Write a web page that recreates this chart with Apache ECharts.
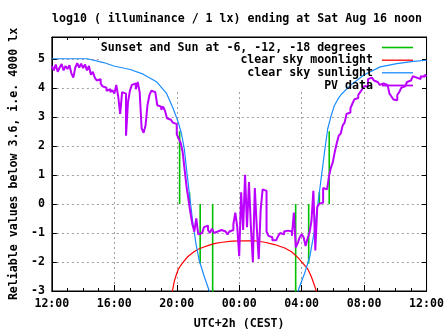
<!DOCTYPE html>
<html>
<head>
<meta charset="utf-8">
<script src="https://cdn.jsdelivr.net/npm/echarts@6/dist/echarts.min.js"></script>
<style>html,body{margin:0;padding:0;background:#fff}#c{width:447px;height:335px}</style>
</head>
<body>
<div id="c"></div>
<script>
// ---------------- data ----------------
const titleText = 'log10 ( illuminance / 1 lx) ending at Sat Aug 16 noon';
const xAxisTitle = 'UTC+2h (CEST)';
const yAxisTitle = 'Reliable values below 3.6, i.e. 4000 lx';
const xTickLabels = ['12:00', '16:00', '20:00', '00:00', '04:00', '08:00', '12:00'];
const yTickValues = [-3, -2, -1, 0, 1, 2, 3, 4, 5];
const seriesNames = ['Sunset and Sun at -6, -12, -18 degrees', 'clear sky moonlight', 'clear sky sunlight', 'PV data'];

// vertical markers: time, and the far end of the marker (other end at 0)
const sunEventTimes = ['20:11', '20:49', '21:30', '22:18', '03:37', '04:27', '05:08', '05:46'];
const sunEventEnds  = [2.5, 0.4, -2.05, -3.3, -3.3, -2.05, 0.4, 2.5];

const moonTimes  = ['19:40', '19:51', '19:58', '20:06', '20:17', '20:27', '20:42', '21:01', '21:20', '21:39',
                    '22:05', '22:28', '22:55', '23:33', '00:22', '01:00', '01:38', '02:16', '02:55', '03:21',
                    '03:46', '04:05', '04:24', '04:37', '04:49', '04:58', '05:02'];
const moonValues = [-3.15, -2.65, -2.45, -2.25, -2.1, -1.98, -1.82, -1.68, -1.57, -1.5,
                    -1.42, -1.36, -1.32, -1.28, -1.27, -1.27, -1.32, -1.4, -1.52, -1.65,
                    -1.85, -2.05, -2.25, -2.5, -2.8, -3.05, -3.3];

const sunTimes  = ['12:00', '14:16', '15:19', '15:58', '17:01', '17:51', '18:42', '19:20', '19:45', '20:04',
                   '20:17', '20:29', '20:40', '20:49', '21:01', '21:14', '21:26', '21:46', '22:05', '22:15',
                   '01:00',
                   '03:37', '03:46', '04:11', '04:31', '04:49', '05:02', '05:15', '05:28', '05:40',
                   '05:53', '06:05', '06:18', '06:31', '07:09', '07:59', '09:02', '10:06', '11:09', '12:00'];
const sunValues = [5.0, 5.0, 4.87, 4.75, 4.63, 4.47, 4.21, 3.82, 3.31, 2.86,
                   2.46, 1.9, 1.0, 0.32, -0.59, -1.38, -1.94, -2.51, -3.0, -3.3,
                   null,
                   -3.3, -3.0, -2.4, -1.83, -0.93, -0.02, 0.88, 1.79, 2.58,
                   3.03, 3.37, 3.59, 3.76, 4.1, 4.44, 4.72, 4.83, 4.91, 4.95];

const pvStart = '12:00';
const pvStepMinutes = 7.5;
const pvValues = [
  4.75, 4.6, 4.8, 4.55, 4.7, 4.82, 4.6, 4.75, 4.65, 4.78,
  4.5, 4.35, 4.7, 4.85, 4.7, 4.83, 4.68, 4.8, 4.6, 4.75,
  4.45, 4.55, 4.35, 4.25, 4.3, 4.15, 4.05, 4.0, 3.9, 3.95,
  3.85, 3.92, 3.8, 4.1, 3.7, 3.1, 3.85, 3.8, 2.35, 3.5,
  3.9, 4.1, 4.15, 3.95, 4.2, 3.85, 2.6, 2.45, 2.7, 3.4,
  3.75, 3.9, 3.85, 3.8, 3.4, 3.35, 3.25, 3.35, 3.2, 2.95,
  2.9, 2.85, 2.8, 2.75, 2.4, 2.25, 2.1, 1.8, 1.2, 0.6,
  0.15, -0.3, -0.7, -0.95, -0.5, -1.05, -1.0, -0.95, -0.8, -0.75,
  -0.9, -1.0, -0.85, -1.0, -0.95, -1.0, -0.9, -0.92, -0.95, -1.0,
  -1.05, -0.95, -0.9, -0.7, -0.3, -0.8, -1.8, 0.4, -0.9, 1.0,
  -0.8, 0.75, -0.8, -2.0, 0.55, -0.8, -1.9, -0.2, 0.5, 0.45,
  -0.95, -1.1, -1.15, -1.25, -1.25, -1.2, -1.1, -1.0, -1.05, -0.95,
  -0.92, -0.88, -0.95, -1.1, -0.3, -1.5, -1.35, -1.15, -1.05, -1.15,
  -1.45, -1.2, -1.0, -0.6, 0.45, -1.6, -0.1, 0.0, 0.05, 0.55,
  0.5, 0.55, 0.95, 1.25, 1.45, 1.8, 2.1, 2.35, 2.42, 2.7,
  2.8, 3.1, 3.15, 3.3, 3.45, 3.6, 3.65, 3.75, 3.85, 3.95,
  4.05, 4.05, 4.3, 4.35, 4.3, 4.25, 4.2, 4.15, 4.1, 4.15,
  4.15, 4.1, 4.12, 3.8, 3.7, 3.6, 3.57, 3.75, 3.85, 4.0,
  4.05, 4.1, 4.2, 4.25, 4.3, 4.4, 4.35, 4.3, 4.3, 4.4,
  4.38, 4.45, 4.4
];

// ---------------- helpers ----------------
function hoursList(list) {           // hours since the 12:00 start, monotonic
  let prev = -Infinity;
  return list.map(s => {
    const [h, m] = s.split(':').map(Number);
    let v = h + m / 60 - 12;
    if (v < 0) v += 24;
    while (v < prev) v += 24;
    prev = v;
    return v;
  });
}
function hm(s) { const [h, m] = s.split(':').map(Number); let v = h + m / 60 - 12; if (v < 0) v += 24; return v; }

const FONT = 'DejaVu Sans Mono';
const FS = 11.6;
const txt = { fontFamily: FONT, fontSize: FS, fontWeight: 'bold', color: '#000' };
const COLORS = ['#00c000', '#ff0000', '#1a8cff', '#bb00ff'];

const greenData = [];
hoursList(sunEventTimes).forEach((t, k) => {
  greenData.push([t, 0], [t, sunEventEnds[k]], [t, '-']);
});
const moonH = hoursList(moonTimes);
const moonData = moonH.map((t, k) => [t, moonValues[k]]);
const sunH = hoursList(sunTimes);
const sunData = sunH.map((t, k) => [t, sunValues[k] === null ? '-' : sunValues[k]]);
const pv0 = hm(pvStart);
const pvData = pvValues.map((v, i) => [pv0 + i * pvStepMinutes / 60, v]);

const legendTops = [41.5, 54.2, 66.8, 79.5];
const legendIconH = [1.6, 1.3, 1.3, 1.8];
const legendPad = [11, 4, 4, 4];

const chart = echarts.init(document.getElementById('c'), null, { renderer: 'canvas' });
const axisCommon = {
  axisLine: { show: true, onZero: false, lineStyle: { color: '#000', width: 1 } },
  axisLabel: Object.assign({}, txt),
  nameTextStyle: Object.assign({}, txt)
};
chart.setOption({
  animation: false,
  backgroundColor: '#fff',
  title: {
    text: titleText, left: 237, top: 13, padding: 0, textAlign: 'center',
    textStyle: Object.assign({}, txt)
  },
  grid: { left: 47, right: 20, top: 37, bottom: 40, show: true, borderColor: '#000', borderWidth: 1, backgroundColor: 'transparent' },
  graphic: [{
    type: 'rect', z: 1, silent: true,
    shape: { x: 99, y: 38, width: 323, height: 54 },
    style: { fill: '#fff' }
  }],
  legend: seriesNames.map((n, k) => ({
    data: [n], right: 34, top: legendTops[k], orient: 'horizontal', align: 'right',
    icon: 'rect', itemWidth: 31, itemHeight: legendIconH[k], padding: 0, selectedMode: false,
    textStyle: Object.assign({}, txt, { padding: [0, legendPad[k], 0, 0] })
  })),
  xAxis: [
    Object.assign({}, axisCommon, {
      type: 'value', min: 0, max: 24, interval: 4, position: 'bottom',
      axisTick: { show: true, inside: true, length: 6, lineStyle: { color: '#000' } },
      minorTick: { show: true, splitNumber: 4, length: 3, lineStyle: { color: '#000' } },
      splitLine: { show: true, lineStyle: { color: '#a0a0a0', width: 1, type: [2, 3] } },
      axisLabel: Object.assign({}, txt, { margin: 7, formatter: v => xTickLabels[Math.round(v / 4)] }),
      name: xAxisTitle, nameLocation: 'middle', nameGap: 27
    }),
    {
      type: 'value', min: 0, max: 24, interval: 4, position: 'top',
      axisLine: { show: true, onZero: false, lineStyle: { color: '#000' } },
      axisTick: { show: true, inside: true, length: 6, lineStyle: { color: '#000' } },
      minorTick: { show: true, splitNumber: 4, length: 3, lineStyle: { color: '#000' } },
      axisLabel: { show: false }, splitLine: { show: false }
    }
  ],
  yAxis: [
    Object.assign({}, axisCommon, {
      type: 'value', min: -3, max: 5.75, interval: 1, position: 'left',
      axisTick: { show: true, inside: true, length: 5, lineStyle: { color: '#000' } },
      splitLine: { show: true, lineStyle: { color: '#a0a0a0', width: 1, type: [2, 3] } },
      axisLabel: Object.assign({}, txt, { margin: 7, showMaxLabel: false,
        formatter: v => (yTickValues.indexOf(v) >= 0 ? String(v) : '') }),
      name: yAxisTitle, nameLocation: 'middle', nameGap: 29, nameRotate: 90
    }),
    {
      type: 'value', min: -3, max: 5.75, interval: 1, position: 'right',
      axisLine: { show: true, onZero: false, lineStyle: { color: '#000' } },
      axisTick: { show: true, inside: true, length: 5, lineStyle: { color: '#000' } },
      axisLabel: { show: false }, splitLine: { show: false }
    }
  ],
  series: [
    { name: seriesNames[0], type: 'line', data: greenData, showSymbol: false, connectNulls: false,
      lineStyle: { color: COLORS[0], width: 1.6 }, itemStyle: { color: COLORS[0] }, silent: true },
    { name: seriesNames[1], type: 'line', data: moonData, showSymbol: false,
      lineStyle: { color: COLORS[1], width: 1.2 }, itemStyle: { color: COLORS[1] }, silent: true },
    { name: seriesNames[2], type: 'line', data: sunData, showSymbol: false, connectNulls: false,
      lineStyle: { color: COLORS[2], width: 1.2 }, itemStyle: { color: COLORS[2] }, silent: true },
    { name: seriesNames[3], type: 'line', data: pvData, showSymbol: false, step: 'end',
      lineStyle: { color: COLORS[3], width: 2 }, itemStyle: { color: COLORS[3] }, silent: true }
  ]
});
</script>
</body>
</html>
